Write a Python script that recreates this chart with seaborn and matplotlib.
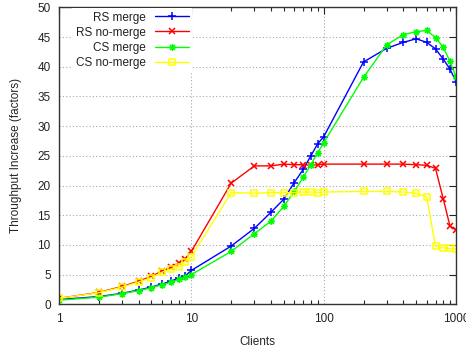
import matplotlib
matplotlib.use("Agg")
import matplotlib.pyplot as plt
from matplotlib.path import Path
from matplotlib.ticker import LogLocator, NullFormatter, FixedLocator
import seaborn as sns
import pandas as pd

clients = [1, 2, 3, 4, 5, 6, 7, 8, 9, 10, 20, 30, 40, 50, 60, 70, 80, 90, 100,
           200, 300, 400, 500, 600, 700, 800, 900, 1000]
rs_merge = [0.8, 1.3, 1.85, 2.4, 2.9, 3.4, 3.9, 4.4, 4.8, 5.7, 9.8, 12.8, 15.5, 17.7,
            20.5, 22.7, 25.0, 27.0, 28.2, 40.8, 43.1, 44.1, 44.7, 44.1, 43.0, 41.3, 39.6, 37.5]
rs_nomerge = [1.0, 2.0, 3.0, 3.9, 4.7, 5.6, 6.2, 7.0, 7.7, 8.9, 20.4, 23.3, 23.3, 23.6,
              23.5, 23.5, 23.4, 23.5, 23.6, 23.6, 23.6, 23.6, 23.5, 23.4, 22.9, 17.8, 13.2, 12.5]
cs_merge = [0.7, 1.2, 1.8, 2.3, 2.8, 3.3, 3.7, 4.2, 4.6, 5.0, 8.9, 11.9, 14.0, 16.5,
            19.0, 21.4, 23.5, 25.5, 27.2, 38.2, 43.7, 45.4, 45.9, 46.1, 44.9, 43.3, 40.9, 38.3]
cs_nomerge = [1.0, 1.95, 2.9, 3.75, 4.5, 5.4, 5.9, 6.3, 7.2, 8.0, 18.8, 18.7, 18.8, 18.8,
              18.8, 18.9, 18.9, 18.8, 18.9, 19.0, 19.0, 18.9, 18.7, 18.1, 9.8, 9.5, 9.4, 9.3]

series_names = ["RS merge", "RS no-merge", "CS merge", "CS no-merge"]
series_values = [rs_merge, rs_nomerge, cs_merge, cs_nomerge]
colors = ["#0000ff", "#ff0000", "#00ff00", "#ffff00"]

x_ticks = [1, 10, 100, 1000]
x_ticklabels = ["1", "10", "100", "1000"]
y_ticks = [0, 5, 10, 15, 20, 25, 30, 35, 40, 45, 50]

sns.set_theme(style="white")
plt.rcParams["font.family"] = ["Liberation Sans", "DejaVu Sans"]
FS = 8.5
plt.rcParams["font.size"] = FS

star = Path([(-1, 0), (1, 0), (0, -1), (0, 1), (-0.7, -0.7), (0.7, 0.7), (-0.7, 0.7), (0.7, -0.7)],
            [Path.MOVETO, Path.LINETO, Path.MOVETO, Path.LINETO,
             Path.MOVETO, Path.LINETO, Path.MOVETO, Path.LINETO])
markers = ["+", "x", star, "s"]
msizes = [5.5, 4.5, 5.0, 4.0]

fig = plt.figure(figsize=(4.66, 3.49), dpi=100)
ax = fig.add_axes([59 / 466, 1 - 304.3 / 349, (456 - 59) / 466, (304.3 - 7.3) / 349])

for name, vals, c, m, ms in zip(series_names, series_values, colors, markers, msizes):
    df = pd.DataFrame({"Clients": clients, "val": vals})
    sns.lineplot(data=df, x="Clients", y="val", ax=ax, color=c, label=name,
                 marker=m, markersize=ms, markeredgewidth=1.1,
                 markerfacecolor="none", markeredgecolor=c, linewidth=1.0)

ax.set_xscale("log")
ax.set_xlim(1, 1000)
ax.set_ylim(0, 50)
ax.xaxis.set_major_locator(FixedLocator(x_ticks))
ax.set_xticklabels(x_ticklabels)
ax.xaxis.set_minor_locator(LogLocator(base=10, subs=range(2, 10)))
ax.xaxis.set_minor_formatter(NullFormatter())
ax.set_yticks(y_ticks)
ax.set_yticklabels([str(v) for v in y_ticks])

ax.tick_params(axis="both", which="major", direction="in", length=5, width=0.8,
               top=True, right=True, labelsize=FS, colors="#222222", pad=6)
ax.tick_params(axis="x", which="minor", direction="in", length=3, width=0.8,
               top=True, bottom=True)
ax.tick_params(axis="x", which="major", pad=6)

ax.grid(True, which="major", color="#a8a8a8", linestyle=(0, (1, 2)), linewidth=0.8)
ax.set_axisbelow(True)
for s in ax.spines.values():
    s.set_color("#333333")
    s.set_linewidth(1.0)

ax.set_xlabel("Clients", fontsize=FS, labelpad=8)
ax.set_ylabel("Throughput Increase (factors)", fontsize=FS, labelpad=11)

leg = ax.legend(loc="upper left", bbox_to_anchor=(72 / 466, 1 - 8 / 349),
                bbox_transform=fig.transFigure, markerfirst=False, frameon=True,
                fancybox=False, edgecolor="none", facecolor="white", framealpha=1,
                borderpad=0.3, borderaxespad=0, handlelength=2.8, handletextpad=0.85,
                labelspacing=0.26, fontsize=FS, numpoints=1)
for t in leg.get_texts():
    t.set_color("#222222")

fig.savefig("out.png", dpi=100)
